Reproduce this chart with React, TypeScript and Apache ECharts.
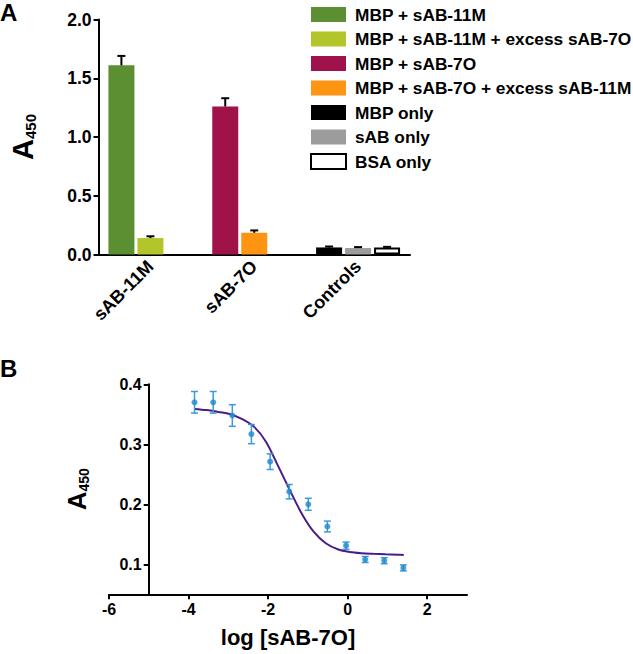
import React, { useEffect, useRef } from "react";
import * as echarts from "echarts";

const FONT = '"Liberation Sans", Arial, Helvetica, sans-serif';

// Panel A data
const categoriesA = ["sAB-11M", "sAB-7O", "Controls"];
const seriesNamesA = [
  "MBP + sAB-11M",
  "MBP + sAB-11M + excess sAB-7O",
  "MBP + sAB-7O",
  "MBP + sAB-7O + excess sAB-11M",
  "MBP only",
  "sAB only",
  "BSA only",
];
const valuesA: (number | null)[][] = [
  [1.61, null, null],
  [0.14, null, null],
  [null, 1.26, null],
  [null, 0.185, null],
  [null, null, 0.06],
  [null, null, 0.055],
  [null, null, 0.06],
];
const errorsA = [0.08, 0.015, 0.07, 0.02, 0.008, 0.008, 0.005];
const stackSlotA = [1, 2, 1, 2, 1, 2, 3];
const colorsA = ["#5b8f31", "#b4c52a", "#a0124a", "#fd9412", "#000000", "#9c9c9c", "#ffffff"];
const yTicksA = [0, 0.5, 1.0, 1.5, 2.0];

// Panel B data
const logConc = [-3.85, -3.38, -2.9, -2.42, -1.95, -1.47, -0.99, -0.51, -0.04, 0.44, 0.92, 1.4];
const a450 = [0.37, 0.37, 0.348, 0.317, 0.271, 0.221, 0.2, 0.163, 0.131, 0.108, 0.106, 0.094];
const a450Err = [0.018, 0.018, 0.018, 0.016, 0.013, 0.012, 0.01, 0.009, 0.006, 0.005, 0.005, 0.005];
const fitX = [-3.85, -3.55, -3.25, -2.95, -2.65, -2.35, -2.05, -1.75, -1.45, -1.15, -0.85, -0.55, -0.25, 0.05, 0.35, 0.65, 0.95, 1.25, 1.41];
const fitY = [0.359, 0.357, 0.354, 0.35, 0.342, 0.329, 0.304, 0.264, 0.223, 0.184, 0.154, 0.135, 0.125, 0.1205, 0.1185, 0.1175, 0.1167, 0.116, 0.1155];
const xTicksB = [-6, -4, -2, 0, 2];
const yTicksB = [0.1, 0.2, 0.3, 0.4];

export default function App() {
  const ref = useRef<HTMLDivElement>(null);
  useEffect(() => {
    if (!ref.current) return;
    const chart = echarts.init(ref.current, undefined, { renderer: "svg" });

    const barSeries = seriesNamesA.map((name, i) => ({
      type: "bar",
      name,
      stack: "s" + stackSlotA[i],
      xAxisIndex: 0,
      yAxisIndex: 0,
      barWidth: 26,
      barGap: "11.5%",
      data: valuesA[i],
      itemStyle:
        i === 6
          ? { color: colorsA[i], borderColor: "#000", borderWidth: 2 }
          : { color: colorsA[i] },
    }));

    const errDataA: number[][] = [];
    valuesA.forEach((arr, si) => {
      arr.forEach((v, ci) => {
        if (v != null) errDataA.push([ci, v, errorsA[si], stackSlotA[si]]);
      });
    });

    const labelRich = (big: number, small: number) => ({
      a: { fontSize: big, fontWeight: "bold", fontFamily: FONT, color: "#000", lineHeight: big },
      s: {
        fontSize: small,
        fontWeight: "bold",
        fontFamily: FONT,
        color: "#000",
        lineHeight: small,
        padding: [Math.round(small * 1.0), 0, 0, 0],
      },
    });

    const option: any = {
      animation: false,
      backgroundColor: "#fff",
      textStyle: { fontFamily: FONT },
      graphic: [
        { type: "text", left: 0, top: 0, style: { text: "A", font: `bold 24px ${FONT}`, fill: "#000" } },
        { type: "text", left: 0, top: 356, style: { text: "B", font: `bold 24px ${FONT}`, fill: "#000" } },
      ],
      legend: {
        data: seriesNamesA,
        orient: "vertical",
        left: 310,
        top: 6,
        itemWidth: 35,
        itemHeight: 15,
        itemGap: 7.5,
        padding: 0,
        icon: "rect",
        selectedMode: false,
        textStyle: { fontSize: 17.3, fontWeight: "bold", fontFamily: FONT, color: "#000", padding: [0, 0, 0, 4] },
      },
      grid: [
        { left: 80, top: 19.5, width: 330, height: 235 },
        { left: 109, top: 384.3, width: 358, height: 210 },
      ],
      xAxis: [
        {
          type: "category",
          gridIndex: 0,
          data: categoriesA,
          axisLine: { lineStyle: { color: "#000", width: 2 } },
          axisTick: { alignWithLabel: true, length: 5, lineStyle: { color: "#000", width: 2 } },
          axisLabel: {
            rotate: 45,
            margin: 9,
            fontSize: 18,
            fontWeight: "bold",
            fontFamily: FONT,
            color: "#000",
            interval: 0,
          },
        },
        {
          type: "value",
          gridIndex: 1,
          min: -6,
          max: 3,
          interval: 2,
          name: "log [sAB-7O]",
          nameLocation: "middle",
          nameGap: 32,
          nameTextStyle: { fontSize: 22, fontWeight: "bold", fontFamily: FONT, color: "#000" },
          splitLine: { show: false },
          axisLine: { onZero: false, lineStyle: { color: "#000", width: 2 } },
          axisTick: { length: 5, customValues: xTicksB, lineStyle: { color: "#000", width: 2 } },
          axisLabel: {
            customValues: xTicksB,
            margin: 7,
            fontSize: 16,
            fontWeight: "bold",
            fontFamily: FONT,
            color: "#000",
          },
        },
      ],
      yAxis: [
        {
          type: "value",
          gridIndex: 0,
          min: 0,
          max: 2,
          interval: 0.5,
          name: "{a|A}{s|450}",
          nameLocation: "middle",
          nameRotate: 90,
          nameGap: 61,
          nameTextStyle: { rich: labelRich(29, 15) },
          splitLine: { show: false },
          axisLine: { show: true, lineStyle: { color: "#000", width: 2 } },
          axisTick: { show: true, length: 5, lineStyle: { color: "#000", width: 2 } },
          axisLabel: {
            margin: 7,
            fontSize: 17.5,
            fontWeight: "bold",
            fontFamily: FONT,
            color: "#000",
            customValues: yTicksA,
            formatter: (v: number) => v.toFixed(1),
          },
        },
        {
          type: "value",
          gridIndex: 1,
          min: 0.05,
          max: 0.4,
          offset: -39.7,
          name: "{a|A}{s|450}",
          nameLocation: "middle",
          nameRotate: 90,
          nameGap: 59,
          nameTextStyle: { rich: labelRich(26, 14) },
          splitLine: { show: false },
          axisLine: { show: true, onZero: false, lineStyle: { color: "#000", width: 2 } },
          axisTick: { show: true, length: 5, customValues: yTicksB, lineStyle: { color: "#000", width: 2 } },
          axisLabel: {
            customValues: yTicksB,
            margin: 7,
            fontSize: 16,
            fontWeight: "bold",
            fontFamily: FONT,
            color: "#000",
            formatter: (v: number) => v.toFixed(1),
          },
        },
      ],
      series: [
        ...barSeries,
        {
          type: "custom",
          name: "errA",
          xAxisIndex: 0,
          yAxisIndex: 0,
          z: 5,
          data: errDataA,
          renderItem: (params: any, api: any) => {
            const ci = api.value(0);
            const v = api.value(1);
            const e = api.value(2);
            const slot = api.value(3);
            const base = api.coord([ci, v]);
            const top = api.coord([ci, v + e]);
            const x = base[0] + (slot - 2) * 29;
            const st = { stroke: "#000", lineWidth: 2 };
            return {
              type: "group",
              children: [
                { type: "line", shape: { x1: x, y1: base[1], x2: x, y2: top[1] }, style: st },
                { type: "line", shape: { x1: x - 4, y1: top[1], x2: x + 4, y2: top[1] }, style: st },
              ],
            };
          },
        },
        {
          type: "line",
          name: "fit",
          xAxisIndex: 1,
          yAxisIndex: 1,
          data: fitX.map((x, i) => [x, fitY[i]]),
          smooth: 0.3,
          showSymbol: false,
          lineStyle: { color: "#4b1c88", width: 2 },
          z: 2,
        },
        {
          type: "custom",
          name: "errB",
          xAxisIndex: 1,
          yAxisIndex: 1,
          z: 3,
          data: logConc.map((x, i) => [x, a450[i], a450Err[i]]),
          renderItem: (params: any, api: any) => {
            const x = api.value(0);
            const v = api.value(1);
            const e = api.value(2);
            const hi = api.coord([x, v + e]);
            const lo = api.coord([x, v - e]);
            const st = { stroke: "#3b9ad8", lineWidth: 1.5 };
            return {
              type: "group",
              children: [
                { type: "line", shape: { x1: hi[0], y1: hi[1], x2: lo[0], y2: lo[1] }, style: st },
                { type: "line", shape: { x1: hi[0] - 3.5, y1: hi[1], x2: hi[0] + 3.5, y2: hi[1] }, style: st },
                { type: "line", shape: { x1: lo[0] - 3.5, y1: lo[1], x2: lo[0] + 3.5, y2: lo[1] }, style: st },
              ],
            };
          },
        },
        {
          type: "scatter",
          name: "points",
          xAxisIndex: 1,
          yAxisIndex: 1,
          symbol: "circle",
          symbolSize: 6,
          itemStyle: { color: "#1f88cf" },
          z: 4,
          data: logConc.map((x, i) => [x, a450[i]]),
        },
      ],
    };

    chart.setOption(option);
    return () => chart.dispose();
  }, []);

  return (
    <div
      ref={ref}
      style={{ position: "fixed", left: 0, top: 0, width: 633, height: 654, background: "#fff" }}
    />
  );
}
